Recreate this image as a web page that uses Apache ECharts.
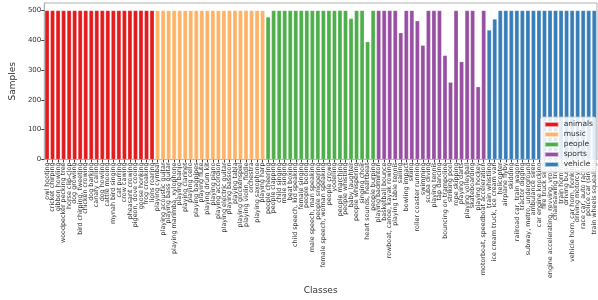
<!DOCTYPE html>
<html>
<head>
<meta charset="utf-8">
<script src="https://cdn.jsdelivr.net/npm/echarts@6/dist/echarts.min.js"></script>
<style>html,body{margin:0;padding:0;background:#fff}#c{width:598px;height:300px}</style>
</head>
<body>
<div id="c"></div>
<script>
var animalClasses = ["owl hooting","cricket chirping","gibbon howling","woodpecker pecking tree","horse clip-clop","dog growling","bird chirping, tweeting","chicken crowing","dog barking","canary calling","dog howling","cattle mooing","mynah bird singing","cat purring","crow cawing","pheasant crowing","pigeon, dove cooing","goose honking","frog croaking","lions roaring"];
var animalValues = [500,500,500,500,500,500,500,500,500,500,500,500,500,500,500,500,500,500,500,500];
var musicClasses = ["playing cymbal","playing acoustic guitar","playing bass guitar","playing marimba, xylophone","playing banjo","playing clarinet","playing cello","playing bagpipes","playing flute","playing drum kit","playing piano","playing accordion","playing electric guitar","playing bassoon","playing tabla","playing glockenspiel","playing violin, fiddle","orchestra","playing saxophone","playing harp"];
var musicValues = [500,500,500,500,500,500,500,500,500,500,500,500,500,500,500,500,500,500,500,500];
var peopleClasses = ["people cheering","people clapping","child singing","male singing","beat boxing","child speech, kid speaking","female singing","people booing","male speech, man speaking","people sniggering","female speech, woman speaking","people crowd","yodelling","people marching","people whistling","baby laughter","people whispering","singing choir","heart sounds, heartbeat","people burping"];
var peopleValues = [478,500,500,500,500,500,500,500,500,500,500,500,500,500,500,473,500,500,395,500];
var sportsClasses = ["playing badminton","basketball bounce","rowboat, canoe, kayak rowing","playing table tennis","sailing","bowling impact","skiing","roller coaster running","swimming","scuba diving","playing tennis","tap dancing","bouncing on trampoline","striking pool","rope skipping","playing darts","playing volleyball","skateboarding","playing hockey","motorboat, speedboat acceleration"];
var sportsValues = [500,500,500,500,425,500,500,465,383,500,500,500,349,259,500,328,500,500,244,500];
var vehicleClasses = ["train whistling","ice cream truck, ice cream van","helicopter","airplane flyby","skidding","railroad car, train wagon","tractor digging","subway, metro, underground","ambulance siren","car engine knocking","fire truck siren","engine accelerating, revving, vroom","chainsawing trees","train horning","driving buses","vehicle horn, car horn, honking","driving motorcycle","race car, auto racing","police car (siren)","train wheels squealing"];
var vehicleValues = [434,471,500,500,500,500,500,500,500,500,500,500,500,500,500,500,500,500,500,500];
var groupNames = ["animals","music","people","sports","vehicle"];
var yTicks = [0,100,200,300,400,500];

var groupColors = ["#e41a1c","#ffb366","#4daf4a","#984ea3","#377eb8"];
var groups = [[animalClasses,animalValues],[musicClasses,musicValues],[peopleClasses,peopleValues],[sportsClasses,sportsValues],[vehicleClasses,vehicleValues]];
var categories = [];
groups.forEach(function(g){ categories = categories.concat(g[0]); });
var series = groups.map(function(g, gi){
  var data = [];
  groups.forEach(function(h, hi){
    h[1].forEach(function(v){ data.push(hi === gi ? v : '-'); });
  });
  return {
    name: groupNames[gi], type: 'bar', stack: 'all', data: data,
    barCategoryGap: '22%',
    itemStyle: {color: groupColors[gi], borderColor: 'rgba(255,255,255,0.6)', borderWidth: 0.4},
    animation: false
  };
});
var font = 'DejaVu Sans';
var chart = echarts.init(document.getElementById('c'), null, {renderer: 'canvas'});
chart.setOption({
  animation: false,
  textStyle: {fontFamily: font},
  grid: {left: 26, right: 1, top: 3, bottom: 126, show: true, borderColor: '#b0b0b0', borderWidth: 1, containLabel: false},
  legend: {
    data: groupNames, orient: 'vertical', right: 2, top: 117,
    icon: 'rect', itemWidth: 14, itemHeight: 5, itemGap: 1,
    textStyle: {fontFamily: font, fontSize: 7.5, color: '#333', lineHeight: 9},
    backgroundColor: 'rgba(255,255,255,0.85)', borderColor: '#cccccc', borderWidth: 0.8, borderRadius: 2,
    padding: [3, 3, 3, 3]
  },
  xAxis: {
    type: 'category', data: categories,
    name: 'Classes', nameLocation: 'middle', nameGap: 112,
    nameTextStyle: {fontFamily: font, fontSize: 9, color: '#333'},
    axisLine: {show: true, lineStyle: {color: '#b0b0b0', width: 1}},
    axisTick: {show: true, alignWithLabel: true, length: 3, lineStyle: {color: '#444'}},
    axisLabel: {interval: 0, rotate: 90, fontSize: 6.4, color: '#333', margin: 3, fontFamily: font},
    splitLine: {show: false}
  },
  yAxis: {
    type: 'value', min: 0, max: 525, interval: 100,
    name: 'Samples', nameLocation: 'middle', nameGap: 22,
    nameTextStyle: {fontFamily: font, fontSize: 9, color: '#333'},
    axisLine: {show: true, lineStyle: {color: '#b0b0b0', width: 1}},
    axisTick: {show: true, length: 3, lineStyle: {color: '#444'}, customValues: yTicks},
    axisLabel: {fontSize: 7, color: '#333', margin: 3, fontFamily: font, customValues: yTicks},
    splitLine: {show: false}
  },
  series: series
});
</script>
</body>
</html>
